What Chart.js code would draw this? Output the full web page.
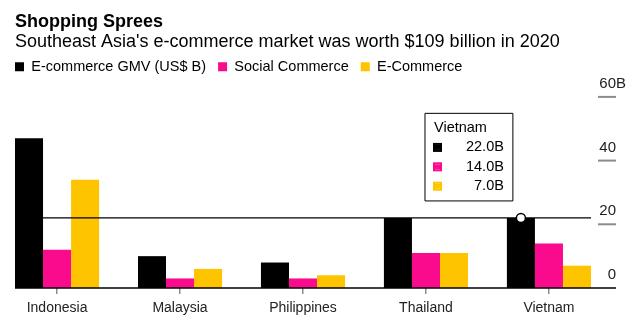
<!DOCTYPE html>
<html>
<head>
<meta charset="utf-8">
<title>Shopping Sprees</title>
<script src="https://cdn.jsdelivr.net/npm/chart.js@4.4.1/dist/chart.umd.min.js"></script>
<style>
  html, body { margin: 0; padding: 0; background: #fff; }
  #wrap { width: 638px; height: 322px; position: relative; }
</style>
</head>
<body>
<div id="wrap"><canvas id="chart"></canvas></div>
<script>
// values (US$ billions, 2020)
const categories = ['Indonesia', 'Malaysia', 'Philippines', 'Thailand', 'Vietnam'];
const gmv = [47, 10, 8, 22, 22];
const socialCommerce = [12, 3, 3, 11, 14];
const eCommerce = [34, 6, 4, 11, 7];

const seriesNames = ['E-commerce GMV (US$ B)', 'Social Commerce', 'E-Commerce'];
const seriesColors = ['#000000', '#fa0a8c', '#ffc400'];
const yTicks = [0, 20, 40, 60];
const yUnit = 'B';
const highlighted = 'Vietnam';

const series = [gmv, socialCommerce, eCommerce];
const groupWidth = 0.684;   // share of each slot taken by the three bars
const legendLift = 13;      // legend sits closer to the subtitle than the layout gives

Chart.defaults.font.family = '"Liberation Sans", Arial, sans-serif';
Chart.defaults.color = '#000';

// tooltip box hangs up and to the left of the hovered bar
Chart.Tooltip.positioners.upperLeft = function (items) {
    if (!items.length) return false;
    const el = items[0].element;
    return { x: el.x - el.width / 2 + 6, y: el.y - 17 };
};

const axisDecor = {
    id: 'axisDecor',
    afterLayout(chart) {
        const lg = chart.legend;
        lg.left -= lg.options.labels.padding;
        lg.right -= lg.options.labels.padding;
        lg.top -= legendLift;
        lg.bottom -= legendLift;
    },
    afterDatasetsDraw(chart) {
        const { ctx, chartArea: area, scales: { y } } = chart;
        const axisRight = area.right + 25;
        ctx.save();

        // right axis: grey dash per tick, label sitting above it
        ctx.font = '15px "Liberation Sans", Arial, sans-serif';
        ctx.fillStyle = '#222';
        ctx.textBaseline = 'middle';
        yTicks.forEach((v, i) => {
            const py = y.getPixelForValue(v);
            if (v !== 0) {
                ctx.strokeStyle = '#8c8c8c';
                ctx.lineWidth = 2;
                ctx.beginPath();
                ctx.moveTo(area.right + 7, py);
                ctx.lineTo(axisRight, py);
                ctx.stroke();
            }
            ctx.textAlign = 'right';
            ctx.fillText(String(v), axisRight, py - 13);
            if (i === yTicks.length - 1) {
                ctx.textAlign = 'left';
                ctx.fillText(yUnit, axisRight, py - 13);
            }
        });

        // zero line
        const y0 = y.getPixelForValue(0);
        ctx.strokeStyle = '#000';
        ctx.lineWidth = 1.5;
        ctx.beginPath();
        ctx.moveTo(area.left, y0);
        ctx.lineTo(axisRight, y0);
        ctx.stroke();

        // hover line at the highlighted GMV bar, with its marker
        const idx = categories.indexOf(highlighted);
        const el = chart.getDatasetMeta(0).data[idx];
        if (el) {
            ctx.lineWidth = 1.2;
            ctx.beginPath();
            ctx.moveTo(area.left, el.y);
            ctx.lineTo(area.right, el.y);
            ctx.stroke();

            ctx.beginPath();
            ctx.arc(el.x, el.y, 4.5, 0, Math.PI * 2);
            ctx.fillStyle = '#fff';
            ctx.fill();
            ctx.lineWidth = 1.5;
            ctx.stroke();
        }
        ctx.restore();
    }
};

const ctx = document.getElementById('chart').getContext('2d');
const chart = new Chart(ctx, {
    type: 'bar',
    data: {
        datasets: series.map((vals, s) => ({
            label: seriesNames[s],
            data: vals.map((v, i) => ({ x: i, y: v })),
            backgroundColor: seriesColors[s],
            borderColor: seriesColors[s],
            borderWidth: 0,
            categoryPercentage: groupWidth,
            barPercentage: 1
        }))
    },
    options: {
        responsive: true,
        maintainAspectRatio: false,
        animation: false,
        events: [],
        layout: { padding: { top: 11, left: 15, right: 47, bottom: 0 } },
        scales: {
            x: {
                type: 'linear',
                bounds: 'data',
                offset: false,
                min: -groupWidth / 2,
                max: categories.length - 1 + groupWidth / 2,
                afterBuildTicks: scale => {
                    scale.ticks = categories.map((_, i) => ({ value: i }));
                },
                ticks: {
                    callback: v => categories[v],
                    font: { size: 14, lineHeight: 1 },
                    color: '#222',
                    padding: 7,
                    maxRotation: 0,
                    autoSkip: false
                },
                grid: { offset: false, drawOnChartArea: false, tickLength: 6, color: '#8c8c8c', lineWidth: 1.5 },
                border: { display: false }
            },
            y: {
                display: false,
                position: 'right',
                min: yTicks[0],
                max: yTicks[yTicks.length - 1]
            }
        },
        plugins: {
            title: {
                display: true,
                text: 'Shopping Sprees',
                align: 'start',
                color: '#000',
                font: { size: 18, weight: 'bold', lineHeight: 1.2 },
                padding: 0
            },
            subtitle: {
                display: true,
                text: "Southeast Asia's e-commerce market was worth $109 billion in 2020",
                align: 'start',
                color: '#000',
                font: { size: 18, lineHeight: 1.1 },
                padding: { top: 0, bottom: 8 }
            },
            legend: {
                position: 'top',
                align: 'start',
                labels: {
                    boxWidth: 9,
                    boxHeight: 9,
                    padding: 12,
                    color: '#000',
                    font: { size: 14.5 }
                }
            },
            tooltip: {
                enabled: true,
                position: 'upperLeft',
                xAlign: 'right',
                yAlign: 'bottom',
                caretSize: 0,
                caretPadding: 0,
                cornerRadius: 0,
                backgroundColor: '#fff',
                borderColor: '#000',
                borderWidth: 1,
                titleColor: '#000',
                bodyColor: '#000',
                titleFont: { size: 14.5, weight: 'normal' },
                bodyFont: { size: 14.5 },
                titleMarginBottom: 2,
                bodySpacing: 2,
                padding: { top: 6, right: 9, bottom: 6, left: 9 },
                bodyAlign: 'right',
                boxWidth: 7,
                boxHeight: 7,
                boxPadding: 23,
                callbacks: {
                    title: items => categories[items[0].dataIndex],
                    label: item => item.parsed.y.toFixed(1) + yUnit,
                    labelColor: item => ({
                        borderColor: seriesColors[item.datasetIndex],
                        backgroundColor: seriesColors[item.datasetIndex],
                        borderWidth: 2,
                        borderRadius: 0
                    })
                }
            }
        }
    },
    plugins: [axisDecor]
});

// show the Vietnam readout as in the original
const vi = categories.indexOf(highlighted);
chart.tooltip.setActiveElements(series.map((_, s) => ({ datasetIndex: s, index: vi })), { x: 0, y: 0 });
chart.update();
</script>
</body>
</html>
